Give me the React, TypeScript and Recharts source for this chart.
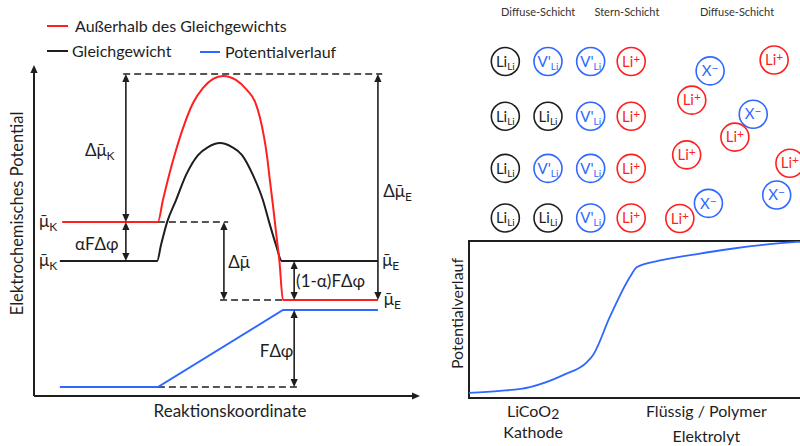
import React from 'react';
import {
  ComposedChart,
  LineChart,
  ScatterChart,
  Line,
  Scatter,
  XAxis,
  YAxis,
  ReferenceLine,
  ReferenceDot,
  ReferenceArea,
  Legend,
} from 'recharts';

const FONT = 'Lato, "Open Sans", "DejaVu Sans", sans-serif';
const INK = '#1e1e1e';
const RED = '#ff1f1f';
const BLUE = '#2f68ff';

// Energieschema: x = Reaktionskoordinate, y = elektrochemisches Potential (beide 0..100)
const outOfEquilibrium = [
  { x: 7.3, y: 52.6 }, { x: 32.1, y: 52.6 }, { x: 33.4, y: 59.2 }, { x: 35.0, y: 66.8 },
  { x: 36.8, y: 74.3 }, { x: 38.9, y: 81.9 }, { x: 41.2, y: 88.5 }, { x: 43.8, y: 93.1 },
  { x: 46.4, y: 95.8 }, { x: 49.0, y: 96.7 }, { x: 52.3, y: 95.5 }, { x: 55.2, y: 92.4 },
  { x: 57.3, y: 88.8 }, { x: 58.5, y: 84.3 }, { x: 59.6, y: 78.2 }, { x: 60.4, y: 72.2 },
  { x: 61.1, y: 65.3 }, { x: 61.9, y: 57.7 }, { x: 62.7, y: 49.5 }, { x: 63.6, y: 40.5 },
  { x: 64.5, y: 29.0 }, { x: 89.1, y: 29.0 },
];

const equilibrium = [
  { x: 6.7, y: 40.8 }, { x: 31.9, y: 40.8 }, { x: 32.9, y: 45.6 }, { x: 34.5, y: 52.6 },
  { x: 36.8, y: 59.2 }, { x: 39.4, y: 66.8 }, { x: 42.5, y: 72.8 }, { x: 45.1, y: 75.2 },
  { x: 48.2, y: 76.4 }, { x: 51.3, y: 75.2 }, { x: 53.9, y: 72.8 }, { x: 56.7, y: 66.8 },
  { x: 59.3, y: 59.2 }, { x: 60.9, y: 52.6 }, { x: 62.7, y: 45.6 }, { x: 64.2, y: 40.8 },
  { x: 89.1, y: 40.8 },
];

const potentialStep = [
  { x: 6.7, y: 2.7 }, { x: 32.1, y: 2.7 }, { x: 64.5, y: 26.0 }, { x: 89.1, y: 26.0 },
];

// gestrichelte Hilfslinien
const guides = [
  { y: 97.3, from: 23.1, to: 90.2 },
  { y: 52.6, from: 32.1, to: 50.3 },
  { y: 29.0, from: 48.2, to: 64.5 },
  { y: 2.7, from: 32.1, to: 68.9 },
];

// Doppelpfeile zwischen den Niveaus
const gaps = [
  { x: 23.8, from: 97.3, to: 52.6 },
  { x: 23.8, from: 52.6, to: 40.8 },
  { x: 49.2, from: 52.6, to: 29.0 },
  { x: 67.4, from: 40.8, to: 29.0 },
  { x: 89.1, from: 97.3, to: 29.0 },
  { x: 67.4, from: 26.0, to: 2.7 },
];

const MU = 'μ\u0304';
const symbols = [
  { text: 'Δ' + MU, sub: 'K', x: 13.2, y: 72.5 },
  { text: MU, sub: 'K', x: 1.3, y: 51.1 },
  { text: 'αFΔφ', sub: '', x: 10.6, y: 44.1 },
  { text: MU, sub: 'K', x: 1.3, y: 39.3 },
  { text: 'Δ' + MU, sub: '', x: 50.3, y: 38.7 },
  { text: '(1-α)FΔφ', sub: '', x: 67.9, y: 33.0 },
  { text: MU, sub: 'E', x: 90.2, y: 39.3 },
  { text: 'Δ' + MU, sub: 'E', x: 90.5, y: 60.2 },
  { text: MU, sub: 'E', x: 90.6, y: 27.5 },
  { text: 'FΔφ', sub: '', x: 58.5, y: 11.9 },
];

const legendItems = [
  { name: 'Außerhalb des Gleichgewichts', color: RED },
  { name: 'Gleichgewicht', color: INK },
  { name: 'Potentialverlauf', color: BLUE },
];
const legendSlots = [
  { left: 47, top: 16, line: 21, gap: 7 },
  { left: 47, top: 41, line: 21, gap: 4 },
  { left: 200, top: 42, line: 20, gap: 5 },
];

// Doppelschicht: x = Spalte, y = Reihe (von oben)
const lattice = [
  { x: 1, y: 1, kind: 'LiLi' }, { x: 2, y: 1, kind: 'VLi' }, { x: 3, y: 1, kind: 'VLi' }, { x: 3.95, y: 1, kind: 'Li' },
  { x: 1, y: 2.05, kind: 'LiLi' }, { x: 2, y: 2.05, kind: 'LiLi' }, { x: 3, y: 2.05, kind: 'VLi' }, { x: 3.95, y: 2.05, kind: 'Li' },
  { x: 1, y: 3.05, kind: 'LiLi' }, { x: 2, y: 3.05, kind: 'VLi' }, { x: 3, y: 3.05, kind: 'VLi' }, { x: 3.95, y: 3.05, kind: 'Li' },
  { x: 1, y: 4, kind: 'LiLi' }, { x: 2, y: 4, kind: 'LiLi' }, { x: 3, y: 4, kind: 'VLi' }, { x: 3.95, y: 4, kind: 'Li' },
];

const freeIons = [
  { x: 5.8, y: 1.18, kind: 'X' },
  { x: 7.3, y: 0.97, kind: 'Li' },
  { x: 5.37, y: 1.74, kind: 'Li' },
  { x: 6.81, y: 2.01, kind: 'X' },
  { x: 6.38, y: 2.45, kind: 'Li' },
  { x: 5.25, y: 2.79, kind: 'Li' },
  { x: 7.67, y: 2.95, kind: 'Li' },
  { x: 7.36, y: 3.56, kind: 'X' },
  { x: 5.76, y: 3.72, kind: 'X' },
  { x: 5.09, y: 4.01, kind: 'Li' },
];

const layerNames = [
  { name: 'Diffuse-Schicht', x: 1.77 },
  { name: 'Stern-Schicht', x: 3.85 },
  { name: 'Diffuse-Schicht', x: 6.43 },
];

// Potentialverlauf über die Grenzfläche (0..100)
const interfacePotential = [
  { x: 0, y: 3.2 }, { x: 9.1, y: 4.5 }, { x: 17.9, y: 7.0 }, { x: 27.6, y: 14.6 },
  { x: 34.6, y: 22.9 }, { x: 36.4, y: 27.4 }, { x: 41.3, y: 51.6 }, { x: 47.2, y: 77.1 },
  { x: 49.3, y: 83.4 }, { x: 56.9, y: 87.9 }, { x: 66.9, y: 91.7 }, { x: 76.5, y: 94.9 },
  { x: 86.2, y: 97.5 }, { x: 96.2, y: 99.4 }, { x: 100, y: 100 },
];

const regionTicks = [18.8, 69.6];
const regionTitles = ['LiCoO2', 'Flüssig / Polymer'];
const regionSubtitles = ['Kathode', 'Elektrolyt'];
const subtitleGap = [21, 25];

const species: Record<string, { color: string; main: string; sub?: string; sup?: string }> = {
  LiLi: { color: INK, main: 'Li', sub: 'Li' },
  VLi: { color: BLUE, main: "V'", sub: 'Li' },
  Li: { color: RED, main: 'Li', sup: '+' },
  X: { color: BLUE, main: 'X', sup: '−' },
};

const headPoints = (tx: number, ty: number, ux: number, uy: number, len: number, half: number) => {
  const bx = tx - ux * len;
  const by = ty - uy * len;
  return `${tx},${ty} ${bx - uy * half},${by + ux * half} ${bx + uy * half},${by - ux * half}`;
};

const arrow = (both: boolean, width: number) => (p: any) => {
  const { x1, y1, x2, y2 } = p;
  const len = 8;
  const d = Math.hypot(x2 - x1, y2 - y1) || 1;
  const ux = (x2 - x1) / d;
  const uy = (y2 - y1) / d;
  const sx = both ? x1 + ux * (len - 1) : x1;
  const sy = both ? y1 + uy * (len - 1) : y1;
  return (
    <g>
      <line x1={sx} y1={sy} x2={x2 - ux * (len - 1)} y2={y2 - uy * (len - 1)} stroke={INK} strokeWidth={width} />
      <polygon points={headPoints(x2, y2, ux, uy, len, 3.6)} fill={INK} />
      {both && <polygon points={headPoints(x1, y1, -ux, -uy, len, 3.6)} fill={INK} />}
    </g>
  );
};

const SymbolTag = ({ cx, cy, text, sub }: any) => (
  <text x={cx} y={cy} fontSize={17} fill={INK} fontFamily={FONT}>
    {text}
    {sub ? (
      <tspan fontSize={12} dy={4}>
        {sub}
      </tspan>
    ) : null}
  </text>
);

const EnergyLegend = () => (
  <div style={{ position: 'relative', width: 430, height: 65, fontFamily: FONT, fontSize: 16, color: INK }}>
    {legendItems.map((item, i) => {
      const s = legendSlots[i];
      return (
        <div
          key={item.name}
          style={{ position: 'absolute', left: s.left, top: s.top, height: 20, lineHeight: '20px', display: 'flex', alignItems: 'center', whiteSpace: 'nowrap' }}
        >
          <span style={{ display: 'inline-block', width: s.line, height: 2, background: item.color, marginRight: s.gap }} />
          <span>{item.name}</span>
        </div>
      );
    })}
  </div>
);

function EnergyDiagram() {
  return (
    <ComposedChart width={430} height={446} margin={{ top: 65, right: 10, bottom: 0, left: 0 }}>
      <XAxis
        type="number"
        dataKey="x"
        domain={[0, 100]}
        allowDataOverflow
        tick={false}
        tickLine={false}
        axisLine={false}
        height={50}
        label={{
          content: (p: any) => {
            const vb = p.viewBox || { x: 34, y: 396, width: 386, height: 50 };
            return (
              <text x={vb.x + vb.width / 2 + 3} y={vb.y + 21} textAnchor="middle" fontSize={17} fill={INK} fontFamily={FONT}>
                Reaktionskoordinate
              </text>
            );
          },
        }}
      />
      <YAxis
        type="number"
        domain={[0, 100]}
        allowDataOverflow
        tick={false}
        tickLine={false}
        axisLine={false}
        width={34}
        label={{
          content: (p: any) => {
            const vb = p.viewBox || { x: 0, y: 65, width: 34, height: 331 };
            const x = vb.x + 23;
            const y = vb.y + vb.height / 2 - 17;
            return (
              <text x={x} y={y} transform={`rotate(-90, ${x}, ${y})`} textAnchor="middle" fontSize={16.5} fill={INK} fontFamily={FONT}>
                Elektrochemisches Potential
              </text>
            );
          },
        }}
      />
      <Legend verticalAlign="middle" align="center" content={() => <EnergyLegend />} wrapperStyle={{ top: 0, left: 0, width: 430, height: 65 }} />

      {guides.map((g, i) => (
        <ReferenceLine
          key={`guide-${i}`}
          segment={[{ x: g.from, y: g.y }, { x: g.to, y: g.y }]}
          stroke={INK}
          strokeWidth={1.5}
          strokeDasharray="7 4"
        />
      ))}

      <ReferenceLine segment={[{ x: 0, y: 0 }, { x: 0, y: 100 }]} shape={arrow(false, 2)} />
      <ReferenceLine segment={[{ x: 0, y: 0 }, { x: 100, y: 0 }]} shape={arrow(false, 2)} />

      <Line data={potentialStep} dataKey="y" type="linear" stroke={BLUE} strokeWidth={2} dot={false} isAnimationActive={false} />
      <Line data={equilibrium} dataKey="y" type="monotone" stroke={INK} strokeWidth={2} dot={false} isAnimationActive={false} />
      <Line data={outOfEquilibrium} dataKey="y" type="monotone" stroke={RED} strokeWidth={2} dot={false} isAnimationActive={false} />

      {gaps.map((g, i) => (
        <ReferenceLine key={`gap-${i}`} segment={[{ x: g.x, y: g.from }, { x: g.x, y: g.to }]} shape={arrow(true, 1.6)} />
      ))}

      {symbols.map((s, i) => (
        <ReferenceDot
          key={`sym-${i}`}
          x={s.x}
          y={s.y}
          r={0}
          ifOverflow="visible"
          shape={(p: any) => <SymbolTag cx={p.cx} cy={p.cy} text={s.text} sub={s.sub} />}
        />
      ))}
    </ComposedChart>
  );
}

const Particle = (p: any) => {
  const { cx, cy, payload } = p;
  const sp = species[payload.kind];
  return (
    <g>
      <circle cx={cx} cy={cy} r={14} fill="#fff" stroke={sp.color} strokeWidth={1.6} />
      <text x={cx} y={cy + 5.3} textAnchor="middle" fontSize={15} fill={sp.color} fontFamily={FONT}>
        {sp.main}
        {sp.sub ? (
          <tspan fontSize={10} dy={3}>
            {sp.sub}
          </tspan>
        ) : null}
        {sp.sup ? (
          <tspan fontSize={12} dy={-4}>
            {sp.sup}
          </tspan>
        ) : null}
      </text>
    </g>
  );
};

function DoubleLayer() {
  return (
    <ScatterChart width={384} height={244} margin={{ top: 0, right: 0, bottom: 0, left: 0 }}>
      <XAxis type="number" dataKey="x" domain={[-1, 8]} allowDataOverflow hide />
      <YAxis type="number" dataKey="y" domain={[-0.18, 4.5]} allowDataOverflow reversed hide />
      {layerNames.map((l, i) => (
        <ReferenceDot
          key={`layer-${i}`}
          x={l.x}
          y={0.127}
          r={0}
          ifOverflow="visible"
          shape={(p: any) => (
            <text x={p.cx} y={p.cy} textAnchor="middle" fontSize={11} fill="#333" fontFamily={FONT}>
              {l.name}
            </text>
          )}
        />
      ))}
      <Scatter data={lattice} shape={Particle} isAnimationActive={false} />
      <Scatter data={freeIons} shape={Particle} isAnimationActive={false} />
    </ScatterChart>
  );
}

const RegionTick = (p: any) => {
  const { x, y, index } = p;
  const title = regionTitles[index] || '';
  const digit = title.match(/\d$/);
  const head = digit ? title.slice(0, -1) : title;
  return (
    <g fontFamily={FONT} fill={INK} fontSize={16}>
      <text x={x} y={y + 19} textAnchor="middle">
        {head}
        {digit ? (
          <tspan dy={2} fontSize={14}>
            {digit[0]}
          </tspan>
        ) : null}
      </text>
      <text x={x} y={y + 19 + subtitleGap[index]} textAnchor="middle">
        {regionSubtitles[index]}
      </text>
    </g>
  );
};

function InterfaceProfile() {
  return (
    <LineChart width={400} height={216} margin={{ top: 11, right: 20, bottom: 0, left: 0 }}>
      <XAxis
        type="number"
        dataKey="x"
        domain={[0, 100]}
        allowDataOverflow
        ticks={regionTicks}
        interval={0}
        tick={<RegionTick />}
        tickLine={false}
        axisLine={false}
        tickSize={0}
        tickMargin={0}
        height={48}
      />
      <YAxis
        type="number"
        domain={[0, 100]}
        allowDataOverflow
        tick={false}
        tickLine={false}
        axisLine={false}
        width={39}
        label={{
          content: (p: any) => {
            const vb = p.viewBox || { x: 0, y: 11, width: 39, height: 157 };
            const x = vb.x + 33;
            const y = vb.y + vb.height / 2 - 6;
            return (
              <text x={x} y={y} transform={`rotate(-90, ${x}, ${y})`} textAnchor="middle" fontSize={16} fill={INK} fontFamily={FONT}>
                Potentialverlauf
              </text>
            );
          },
        }}
      />
      <ReferenceArea x1={0} x2={100} y1={0} y2={100} fill="none" stroke={INK} strokeWidth={2} />
      <Line data={interfacePotential} dataKey="y" type="monotone" stroke={BLUE} strokeWidth={1.8} dot={false} isAnimationActive={false} />
    </LineChart>
  );
}

export default function App() {
  return (
    <div style={{ position: 'absolute', left: 0, top: 0, width: 800, height: 446, overflow: 'hidden', background: '#fff', fontFamily: FONT }}>
      <div style={{ position: 'absolute', left: 0, top: 0 }}>
        <EnergyDiagram />
      </div>
      <div style={{ position: 'absolute', left: 430, top: 230 }}>
        <InterfaceProfile />
      </div>
      <div style={{ position: 'absolute', left: 420, top: 0 }}>
        <DoubleLayer />
      </div>
    </div>
  );
}
